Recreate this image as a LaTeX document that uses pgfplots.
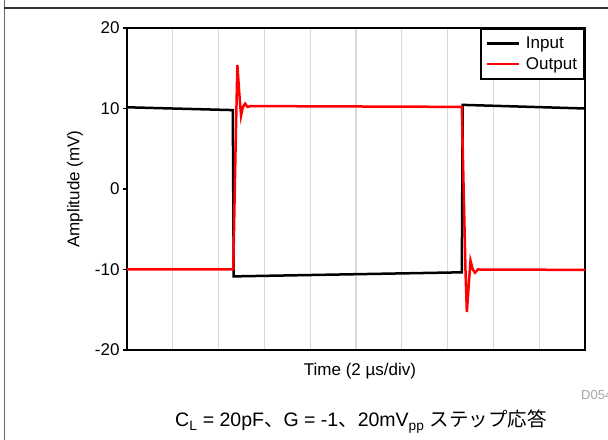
\documentclass[border=0pt]{standalone}
\usepackage{pgfplots}
\pgfplotsset{compat=1.18}
\usepackage{fontspec}
\setmainfont{Liberation Sans}
\newfontfamily\cjk{Noto Sans CJK JP}
\begin{document}
\begin{tikzpicture}[x=1bp,y=1bp]
\path[use as bounding box] (0,0) rectangle (608,440);
\clip (0,0) rectangle (608,440);
\draw[black!60, line width=1bp] (4,0) -- (4,440);
\draw[black!80, line width=1.2bp] (4,432) -- (608,432);
\begin{axis}[
  at={(127bp,90bp)}, anchor=south west, scale only axis,
  width=458bp, height=322bp,
  xmin=0, xmax=10, ymin=-20, ymax=20,
  xtick={0,1,...,10}, xticklabel=\empty, xtick style={draw=none},
  ytick={-20,-10,0,10,20}, yticklabels={-20,-10,0,10,20},
  tick pos=left, tick align=outside, major tick length=4bp,
  ytick style={line width=1.5bp, black},
  xmajorgrids, grid style={line width=1.2bp, color=black!15},
  axis line style={line width=2.4bp},
  tick label style={font=\fontsize{17bp}{20bp}\selectfont},
  label style={font=\fontsize{17bp}{20bp}\selectfont},
  xlabel={Time (2 µs/div)},
  xlabel style={at={(axis description cs:0.5,0)}, anchor=base, yshift=-26bp, xshift=4bp},
  ylabel={Amplitude (mV)},
  ylabel style={at={(axis description cs:-0.1135,0.5)}, anchor=center},
  legend style={at={(1,1)}, anchor=north east, draw=black, line width=2bp, fill=white,
    font=\fontsize{17bp}{19bp}\selectfont, inner xsep=5bp, inner ysep=6bp,
    row sep=3bp, cells={anchor=west}},
  legend image code/.code={\draw[#1, line width=2.4bp] (0bp,0bp) -- (32bp,0bp); \path (36bp,0bp);},
]
\addplot[black, line width=2.5bp] coordinates {
(0,10.15) (2.31,9.8) (2.33,-10.85) (2.40,-10.85) (7.31,-10.35) (7.33,10.45) (10,10.0)
};
\addlegendentry{Input}
\addplot[red, line width=2.5bp] coordinates {
(0,-10.0) (2.32,-10.0) (2.37,5) (2.41,15.4) (2.45,12) (2.49,9.1) (2.53,10.2) (2.58,10.6) (2.63,10.2) (2.70,10.3) (7.31,10.2)
(7.35,0) (7.39,-10) (7.42,-15.3) (7.46,-12) (7.50,-8.9) (7.55,-10.0) (7.60,-10.4) (7.66,-10.0) (10,-10.05)
};
\addlegendentry{Output}
\end{axis}
\node[anchor=base, font=\fontsize{19.5bp}{22bp}\selectfont] at (361,13)
  {C\textsubscript{L} = 20pF{\cjk 、}G = -1{\cjk 、}20mV\textsubscript{pp} {\cjk ステップ応答}};
\node[anchor=base west, font=\fontsize{13bp}{15bp}\selectfont, text=black!35, inner sep=0pt] at (581,40) {D054};
\end{tikzpicture}
\end{document}
